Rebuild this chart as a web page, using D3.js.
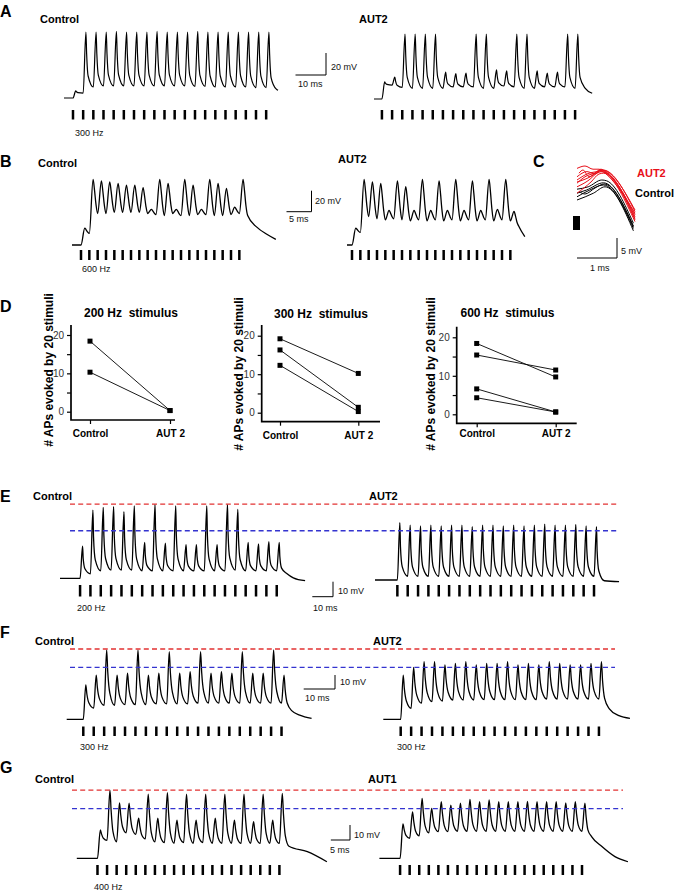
<!DOCTYPE html>
<html><head><meta charset="utf-8">
<script src="https://cdn.jsdelivr.net/npm/d3@7"></script>
<style>
html,body{margin:0;padding:0;background:#fff;}
svg{display:block;font-family:"Liberation Sans",Arial,Helvetica,sans-serif;}
</style></head><body>
<svg id="fig" width="679" height="892"></svg>
<script>
// ================= DATA (mV above baseline per stimulus; times in ms) =================
// Panel A, 300 Hz
const A_ctrl_peaks   = [6.4,60,60,60,60.5,60,60,60,60.5,60,60,60,60.5,60,60,60,60,60,60,60];
const A_ctrl_troughs = [4.5,10,11,11,11,11,11,11,11,11,11,10.5,10.5,10,10,10,10,9.5,9.5,8];
const A_ctrl_tail    = [[3.9,7]];
const A_aut_peaks    = [15.5,20,59,59,59,59,24.5,23,23.5,59,59,26.5,25.5,59,59,25.5,23.5,24.5,59,59];
const A_aut_troughs  = [12.7,10.6,9.7,9.7,9.7,9.7,11,11,11,9.7,9.7,11.8,11,9.7,9.7,11,11,11,9.7,9.7];
const A_aut_tail     = [[5.6,5.2]];
// Panel B, 600 Hz
const B_ctrl_peaks   = [16,62.5,61,60,58.7,57,57,54.6,34,62.5,58.7,34,62.5,57,34,62.5,58.7,54,36,62.5];
const B_ctrl_troughs = [11,30,30,31,31,31,31,30,29,28,30,28,28,29,29,28,28,29,30,28];
const B_ctrl_tail    = [[3.5,17],[5.5,10.2],[7.3,5.4]];
const B_aut_peaks    = [16,62.5,60,58.7,33,61,55.5,33,62.5,33,61,33,62.5,33,61,33,62.5,34,62.5,32];
const B_aut_troughs  = [12,27,25,24,25,24,23,24,23,24,23,24,23,24,23,24,23,24,23,18];
const B_aut_tail     = [[2.9,8]];
// Panel C, overlaid traces [ms, mV]
const C_control = [
  [[0,17.2],[0.28,17.8],[0.62,19.5],[0.74,19.3],[1.41,8.7]],
  [[0,16.2],[0.24,17],[0.66,18.8],[1.41,8]],
  [[0,15.3],[0.32,17],[0.66,18.25],[1.41,7.4]],
  [[0,14.5],[0.41,16.2],[0.7,17.8],[1.41,6.8]],
  [[0.05,16.6],[0.2,16],[0.45,17.5],[0.68,18.5],[1.41,7.8]]
];
const C_aut2 = [
  [[0,22.4],[0.2,23],[0.4,22.2],[0.55,22.2],[0.65,21.6],[1.45,11.2]],
  [[0,20.3],[0.25,21.6],[0.45,21],[0.6,22],[0.72,21.6],[1.45,10.3]],
  [[0,19.5],[0.3,21.2],[0.5,21.6],[0.65,22],[1.45,11.6]],
  [[0,18.7],[0.2,20.3],[0.45,21.2],[0.6,21.6],[1.45,10.8]],
  [[0,17.8],[0.3,19.5],[0.5,21.2],[0.62,21.6],[1.45,9.9]],
  [[0,16.2],[0.35,19],[0.55,21],[0.66,21.2],[1.45,9.5]],
  [[0.05,21.2],[0.15,22],[0.3,20.3],[0.5,21.6],[0.62,22],[1.45,12]],
  [[0,19],[0.4,20.7],[0.6,22.2],[0.7,21.6],[1.45,9.1]]
];
const C_stim = [[-0.1,10.5],[0.075,7]];
// Panel D
const D_titles = ["200 Hz  stimulus","300 Hz  stimulus","600 Hz  stimulus"];
const D_categories = ["Control","AUT 2"];
const D_yTicks = [0,5,10,15,20];
const D_yLabels = [0,10,20];
const D200_control = [18.4,10.3];
const D200_aut2    = [0.3,0.3];
const D300_control = [19.2,16.3,12.3];
const D300_aut2    = [10.2,1.4,0.3];
const D600_control = [18.4,15.4,6.6,4.3];
const D600_aut2    = [9.7,11.5,0.6,0.6];
const D_ylabel = "# APs evoked by 20 stimuli";
// Panel E, 200 Hz
const E_ctrl_peaks   = [21.5,45.5,47.3,47.8,44.4,48.2,24,49.3,23.5,48.2,22.5,22.5,48.2,22.5,49.3,46,24,23,24.5,24];
const E_ctrl_troughs = [3,5,5.5,5.5,5.5,5,5,5,5,5,5,5,5,5,5.5,5,5,5,5,3];
const E_ctrl_tail    = [[8,0.3],[13.7,-1.6]];
const E_aut_peaks    = [38.2,36.5,36,36.5,36,36.5,36.5,35.6,36.5,36.5,36,36.5,36,36.5,37.3,36.5,36.5,37,36,35.6];
const E_aut_troughs  = [2.5,2.5,2.5,2.5,2.5,2.5,2.5,2.5,2.5,2.5,2.5,2.5,2.5,2.5,2.5,2.5,2.5,2.5,2.5,-0.5];
const E_aut_tail     = [[12.1,-1.1]];
const E_levels = [49.5,31.7];
// Panel F, 300 Hz
const F_ctrl_peaks   = [24.5,31.6,49.5,31.6,32.9,49.5,31.6,32.9,48.3,32.9,34,48.3,32.9,34,32.9,48.3,32.9,32.9,49.5,31.6];
const F_ctrl_troughs = [8,10,10,10.5,10.5,10.5,11,11,11,11,11.5,11.5,11.5,11.5,11.5,11.5,11.5,11.5,11.5,6];
const F_ctrl_tail    = [[5.8,3],[9.6,0.7]];
const F_aut_peaks    = [31.6,37.1,41.2,41.2,38.8,40,41.2,38.8,40,40,41.2,38.8,40,38.8,41.2,40,38.8,38.8,40,41.2];
const F_aut_troughs  = [7.9,11.5,12.6,13,13.8,13.8,13.8,14,14,14,14,14,14,14.5,14.5,14.5,14.5,14.5,14.5,7.5];
const F_aut_tail     = [[6.4,2.6],[9.9,0.7]];
const F_levels = [50.2,37.1];
// Panel G, 400 Hz
const G_ctrl_peaks   = [18.9,45.5,37,36.7,26.7,42.7,26.7,43.8,25.5,42.7,25.5,42.7,26.7,42.7,25.5,42.7,24.4,42.7,25.5,43.3];
const G_ctrl_troughs = [12,11,17,16,13,11,10.5,10,10.5,10,10.5,10,10,10,10,10,10,10,10,8];
const G_ctrl_tail    = [[7.3,4.4],[12.4,-2.3]];
const G_aut_peaks    = [22.9,31,40,33.3,37.7,35.5,36.7,39.3,37.7,38.9,37.7,37.7,37.7,38,37.7,37.7,37.7,37,37.7,36.7];
const G_aut_troughs  = [13.3,15,17,17.8,17.8,18,18,18,18,18,18,18,18,18,18,18,18,18,18,14.5];
const G_aut_tail     = [[5.2,7.8],[8.6,1.1],[12,-2.3]];
const G_levels = [45.5,33.1];

// ================= DRAWING =================
const svg = d3.select("#fig");
const RED = "#e23232", BLUE = "#3434d0";

function txt(x,y,s,opt={}){
  const t = svg.append("text").attr("x",x).attr("y",y).text(s)
    .attr("font-size",opt.size||9).attr("font-weight",opt.bold?"bold":"normal")
    .attr("fill",opt.fill||"#000");
  if(opt.anchor) t.attr("text-anchor",opt.anchor);
  return t;
}

function buildPoints(tr){
  const P = tr.period, sh = tr.shape;
  const pts = [[0,0],[tr.stimStart,0]];
  const n = tr.peaks.length;
  for(let i=0;i<n;i++){
    const t = tr.stimStart + i*P, tp = t + sh.rise;
    const pk = tr.peaks[i], nx = tr.troughs[i];
    pts.push([tp,pk]);
    sh.decay.forEach(([k,f]) => pts.push([tp + k*(P-sh.rise), nx + f*(pk-nx)]));
    pts.push([t+P, nx]);
  }
  const tl = tr.stimStart + (n-1)*P;
  tr.tail.forEach(([dt,v]) => pts.push([tl+dt, v]));
  return pts;
}

function drawTrace(tr){
  const xs = d3.scaleLinear().domain([0,1]).range([tr.x0, tr.x0 + tr.pxMs]);
  const ys = d3.scaleLinear().domain([0,1]).range([tr.y0, tr.y0 - tr.pxMv]);
  const line = d3.line().x(d=>xs(d[0])).y(d=>ys(d[1])).curve(d3.curveMonotoneX);
  svg.append("path").attr("d", line(buildPoints(tr)))
    .attr("fill","none").attr("stroke","#000").attr("stroke-width",tr.sw||1.2)
    .attr("stroke-linejoin","round");
  const n = tr.peaks.length;
  svg.append("g").selectAll("rect").data(d3.range(n)).join("rect")
    .attr("x", i => xs(tr.stimStart + i*tr.period) - 1.25)
    .attr("width", 2.5).attr("y", tr.bar[0]).attr("height", tr.bar[1]-tr.bar[0])
    .attr("fill","#000");
  return {xs, ys};
}

function scaleBar(cx, cy, sc, ms, mv, msLabel, mvLabel, msPos, mvPos){
  const w = sc.xs(ms) - sc.xs(0), h = sc.ys(0) - sc.ys(mv);
  svg.append("path").attr("d", `M${cx-w},${cy}H${cx}V${cy-h}`)
    .attr("fill","none").attr("stroke","#000").attr("stroke-width",1);
  txt(msPos[0], msPos[1], msLabel, {size:9, fill:"#111"});
  txt(mvPos[0], mvPos[1], mvLabel, {size:9, fill:"#111"});
}

function dashed(sc, lv, x1, x2){
  [RED, BLUE].forEach((c,i) => {
    svg.append("line").attr("x1",x1).attr("x2",x2)
      .attr("y1", sc.ys(lv[i])).attr("y2", sc.ys(lv[i]))
      .attr("stroke", c).attr("stroke-width",1.3).attr("stroke-dasharray","5,3.2");
  });
}

const shA = {rise:0.9, decay:[[0.1,0.6],[0.3,0.2]]};
const shB = {rise:0.75, decay:[[0.3,0.7],[0.62,0.28]]};
const shE = {rise:1.2, decay:[[0.08,0.55],[0.3,0.18]]};
const shF = {rise:0.8, decay:[[0.14,0.6],[0.4,0.22]]};
const shG = {rise:0.75, decay:[[0.18,0.6],[0.45,0.2]]};

// ----- A -----
txt(0,17,"A",{size:16,bold:true});
txt(40,23,"Control",{size:11,bold:true});
txt(359,23,"AUT2",{size:11,bold:true});
const aC = drawTrace({x0:64,y0:98,pxMs:3.05,pxMv:1.1,stimStart:2.95,period:1000/300,
  peaks:A_ctrl_peaks,troughs:A_ctrl_troughs,tail:A_ctrl_tail,shape:shA,bar:[110,119.5]});
drawTrace({x0:374,y0:99,pxMs:3.05,pxMv:1.1,stimStart:2.6,period:1000/300,
  peaks:A_aut_peaks,troughs:A_aut_troughs,tail:A_aut_tail,shape:shA,bar:[110,119.5]});
scaleBar(326,75,aC,10,20,"10 ms","20 mV",[298,87],[331,70]);
txt(75,136,"300 Hz",{size:9,fill:"#111"});

// ----- B -----
txt(0,167,"B",{size:16,bold:true});
txt(38,167,"Control",{size:11,bold:true});
txt(338,163,"AUT2",{size:11,bold:true});
const bC = drawTrace({x0:72,y0:245,pxMs:5,pxMv:1.05,stimStart:1.8,period:1000/600,
  peaks:B_ctrl_peaks,troughs:B_ctrl_troughs,tail:B_ctrl_tail,shape:shB,bar:[250,260],sw:1.3});
drawTrace({x0:347,y0:245,pxMs:5,pxMv:1.05,stimStart:1.0,period:1000/600,
  peaks:B_aut_peaks,troughs:B_aut_troughs,tail:B_aut_tail,shape:shB,bar:[250,260],sw:1.3});
scaleBar(311.5,211.7,bC,5,20,"5 ms","20 mV",[289,222],[315,204]);
txt(82,272,"600 Hz",{size:9,fill:"#111"});

// ----- C -----
txt(533,167,"C",{size:16,bold:true});
const cx = d3.scaleLinear().domain([0,1]).range([577,617]);
const cy = d3.scaleLinear().domain([0,5]).range([258,238]);
const cLine = d3.line().x(d=>cx(d[0])).y(d=>cy(d[1])).curve(d3.curveMonotoneX);
svg.append("g").selectAll("path").data(C_control).join("path")
  .attr("d",cLine).attr("fill","none").attr("stroke","#000").attr("stroke-width",1);
svg.append("g").selectAll("path").data(C_aut2).join("path")
  .attr("d",cLine).attr("fill","none").attr("stroke","#e8101a").attr("stroke-width",1);
svg.append("rect").attr("x",cx(C_stim[0][0])).attr("y",cy(C_stim[0][1]))
  .attr("width",cx(C_stim[1][0])-cx(C_stim[0][0])).attr("height",cy(C_stim[1][1])-cy(C_stim[0][1]))
  .attr("fill","#000");
svg.append("path").attr("d",`M${cx(0)},${cy(0)}H${cx(1)}V${cy(5)}`)
  .attr("fill","none").attr("stroke","#000").attr("stroke-width",1);
txt(621,254,"5 mV",{size:9,fill:"#111"});
txt(590,271,"1 ms",{size:9,fill:"#111"});
txt(637,177,"AUT2",{size:11,bold:true,fill:"#e8101a"});
txt(635,197,"Control",{size:11,bold:true});

// ----- D -----
txt(0,312,"D",{size:16,bold:true});
const dPanels = [
  {title:D_titles[0],ctrl:D200_control,aut:D200_aut2,ax:71,ay:420,xEnd:175,yTop:325,y0:411.7,y20:335,c0:90,c1:170,tx:131,ty:317,lx:49,ly:370,catY:437},
  {title:D_titles[1],ctrl:D300_control,aut:D300_aut2,ax:261.7,ay:421.7,xEnd:380,yTop:325,y0:412.7,y20:335.7,c0:280,c1:358.3,tx:321,ty:318,lx:239,ly:374,catY:439},
  {title:D_titles[2],ctrl:D600_control,aut:D600_aut2,ax:456.7,ay:423.3,xEnd:576.7,yTop:326.7,y0:414.3,y20:337.3,c0:476.7,c1:555.7,tx:507.5,ty:317,lx:431,ly:374,catY:437}
];
dPanels.forEach(p => {
  const y = d3.scaleLinear().domain([0,20]).range([p.y0,p.y20]);
  const x = d3.scaleLinear().domain([0,1]).range([p.c0,p.c1]);
  const g = svg.append("g");
  const ya = g.append("g").attr("transform",`translate(${p.ax},0)`)
    .call(d3.axisLeft(y).tickValues(D_yTicks).tickSize(4).tickSizeOuter(0)
      .tickFormat(v => D_yLabels.includes(v) ? v : ""));
  ya.select(".domain").remove();
  ya.selectAll("line").attr("stroke-width",1.2);
  ya.selectAll("text").attr("font-size",10).attr("fill","#333").attr("font-family","Liberation Sans, Arial, sans-serif");
  const xa = g.append("g").attr("transform",`translate(0,${p.ay})`)
    .call(d3.axisBottom(x).tickValues([0,1]).tickSize(4).tickSizeOuter(0).tickFormat(i => D_categories[i]));
  xa.select(".domain").remove();
  xa.selectAll("line").attr("stroke-width",1.2);
  xa.selectAll("text").attr("font-size",10).attr("font-weight","bold").attr("fill","#000")
    .attr("font-family","Liberation Sans, Arial, sans-serif").attr("dy",null).attr("y",p.catY-p.ay);
  g.append("path").attr("d",`M${p.ax},${p.yTop}V${p.ay}H${p.xEnd}`)
    .attr("fill","none").attr("stroke","#000").attr("stroke-width",1.7);
  p.ctrl.forEach((v,i) => {
    g.append("line").attr("x1",x(0)).attr("y1",y(v)).attr("x2",x(1)).attr("y2",y(p.aut[i]))
      .attr("stroke","#000").attr("stroke-width",0.9);
  });
  const sq = [];
  p.ctrl.forEach(v => sq.push([0,v])); p.aut.forEach(v => sq.push([1,v]));
  g.selectAll("rect.m").data(sq).join("rect").attr("class","m")
    .attr("x",d=>x(d[0])-2.5).attr("y",d=>y(d[1])-2.5).attr("width",5).attr("height",5).attr("fill","#000");
  txt(p.tx,p.ty,p.title,{size:12,bold:true,anchor:"middle"}).style("white-space","pre");
  svg.append("text").attr("transform",`translate(${p.lx},${p.ly}) rotate(-90)`)
    .attr("text-anchor","middle").attr("dominant-baseline","central")
    .attr("font-size",12).attr("font-weight","bold").text(D_ylabel);
});

// ----- E -----
txt(0,502,"E",{size:16,bold:true});
txt(33,500,"Control",{size:11,bold:true});
txt(369,500,"AUT2",{size:11,bold:true});
const eC = drawTrace({x0:60,y0:578.3,pxMs:2.07,pxMv:1.5,stimStart:9.7,period:5,
  peaks:E_ctrl_peaks,troughs:E_ctrl_troughs,tail:E_ctrl_tail,shape:shE,bar:[585,596.5],sw:1.3});
drawTrace({x0:375,y0:580,pxMs:2.07,pxMv:1.5,stimStart:10.8,period:5,
  peaks:E_aut_peaks,troughs:E_aut_troughs,tail:E_aut_tail,shape:shE,bar:[585,596.5],sw:1.3});
dashed(eC,E_levels,70,617);
scaleBar(333,596.7,eC,10,10,"10 ms","10 mV",[313,611],[338,594]);
txt(77,611,"200 Hz",{size:9,fill:"#111"});

// ----- F -----
txt(0,638,"F",{size:16,bold:true});
txt(35,645,"Control",{size:11,bold:true});
txt(373,645,"AUT2",{size:11,bold:true});
const fC = drawTrace({x0:66.7,y0:719.3,pxMs:3.13,pxMv:1.4,stimStart:5.3,period:1000/300,
  peaks:F_ctrl_peaks,troughs:F_ctrl_troughs,tail:F_ctrl_tail,shape:shF,bar:[726.5,736],sw:1.3});
drawTrace({x0:383.3,y0:719.3,pxMs:3.13,pxMv:1.4,stimStart:5.56,period:1000/300,
  peaks:F_aut_peaks,troughs:F_aut_troughs,tail:F_aut_tail,shape:shF,bar:[726.5,736],sw:1.3});
dashed(fC,F_levels,70,615);
scaleBar(335,689,fC,10,10,"10 ms","10 mV",[305,701],[340,685]);
txt(80,750,"300 Hz",{size:9,fill:"#111"});
txt(397,750,"300 Hz",{size:9,fill:"#111"});

// ----- G -----
txt(0,773,"G",{size:16,bold:true});
txt(35,783,"Control",{size:11,bold:true});
txt(368,783,"AUT1",{size:11,bold:true});
const gC = drawTrace({x0:76.8,y0:858.3,pxMs:3.83,pxMv:1.5,stimStart:5.4,period:2.5,
  peaks:G_ctrl_peaks,troughs:G_ctrl_troughs,tail:G_ctrl_tail,shape:shG,bar:[865,875],sw:1.3});
drawTrace({x0:379.4,y0:858.3,pxMs:3.83,pxMv:1.5,stimStart:5.4,period:2.5,
  peaks:G_aut_peaks,troughs:G_aut_troughs,tail:G_aut_tail,shape:shG,bar:[865,875],sw:1.3});
dashed(gC,G_levels,72,623);
scaleBar(350,840,gC,5,10,"5 ms","10 mV",[330,853],[354,838]);
txt(94,890,"400 Hz",{size:9,fill:"#111"});
</script>
</body></html>
